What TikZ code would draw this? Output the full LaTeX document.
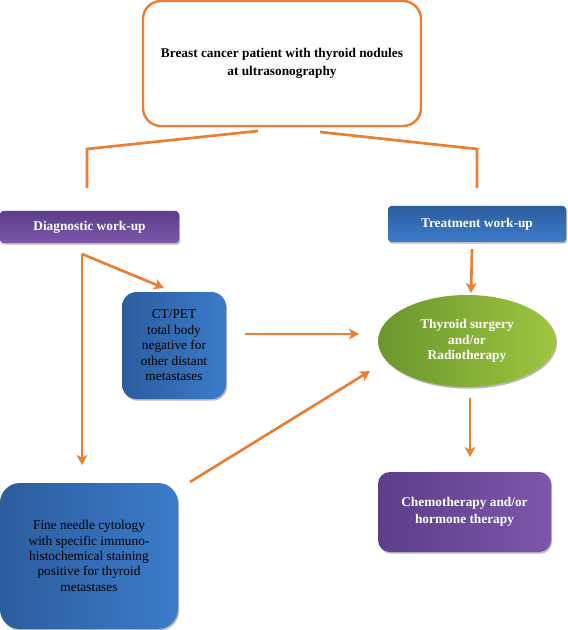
\documentclass[tikz,border=0pt]{standalone}
\usepackage{fontspec}
\setmainfont{Liberation Serif}
\usetikzlibrary{arrows.meta,shadows,shapes.geometric}
\definecolor{org}{RGB}{237,125,49}
\definecolor{purD}{RGB}{92,62,138}
\definecolor{purL}{RGB}{124,86,170}
\definecolor{bluD}{RGB}{44,92,158}
\definecolor{bluL}{RGB}{60,124,202}
\definecolor{grnD}{RGB}{106,150,44}
\definecolor{grnL}{RGB}{158,198,64}
\begin{document}
\begin{tikzpicture}[x=0.75pt,y=0.75pt,
  base/.style={inner sep=0pt, align=center, font=\fontsize{10}{11.6}\selectfont},
  sh/.style={drop shadow={shadow xshift=0.8pt,shadow yshift=-1.3pt,fill=black!50,opacity=0.55}},
  topbox/.style={base, draw=org, line width=1.8pt, fill=white, rounded corners=13.5pt,
    font=\fontsize{10}{13.5}\selectfont\bfseries, text=black},
  headD/.style={base, sh, rounded corners=2.5pt, top color=purD, bottom color=purL,
    text=white, font=\fontsize{10}{11.6}\selectfont\bfseries},
  headT/.style={base, sh, rounded corners=2.5pt, top color=bluD, bottom color=bluL,
    text=white, font=\fontsize{10}{11.6}\selectfont\bfseries},
  bluebox/.style={base, sh, left color=bluD, right color=bluL, text=black},
  greenell/.style={base, sh, ellipse, left color=grnD, right color=grnL, text=white,
    font=\fontsize{10}{11.6}\selectfont\bfseries},
  purbox/.style={base, sh, rounded corners=9pt, left color=purD, right color=purL, text=white,
    font=\fontsize{10}{12.75}\selectfont\bfseries},
  link/.style={draw=org, line width=2pt},
  arr/.style={link, -{Stealth[length=7.5pt,width=8pt,inset=2pt]}}]
\useasboundingbox (0,0) rectangle (567,-630);

% nodes
\node[topbox, minimum width=208.5pt, minimum height=93.75pt] (top) at (282,-63.5)
  {Breast cancer patient with thyroid nodules\\at ultrasonography};
\node[headD, minimum width=134.25pt, minimum height=24pt] (diag) at (89.5,-227)
  {Diagnostic work-up};
\node[headT, minimum width=133.5pt, minimum height=27pt] (treat) at (477,-224)
  {Treatment work-up};
\node[bluebox, rounded corners=11pt, minimum width=78pt, minimum height=80.25pt] (ct) at (174,-345.5)
  {CT/PET\\total body\\negative for\\other distant\\metastases};
\node[greenell, minimum width=133.5pt, minimum height=69pt] (surg) at (467,-341)
  {\raisebox{0pt}{Thyroid surgery}\\and/or\\Radiotherapy};
\node[purbox, minimum width=129.75pt, minimum height=60pt] (chemo) at (464.5,-512)
  {Chemotherapy and/or\\hormone therapy};
\node[bluebox, rounded corners=15pt, minimum width=133.5pt, minimum height=109.5pt,
  font=\fontsize{10}{11.5}\selectfont] (fnc) at (89,-556)
  {Fine needle cytology\\with specific immuno-\\histochemical staining\\positive for thyroid\\metastases};

% free ends of connectors
\coordinate (tl0) at (258,-131);
\coordinate (tl1) at (87,-149);
\coordinate (tl2) at (87,-188);
\coordinate (tr0) at (320,-132);
\coordinate (tr1) at (477,-149);
\coordinate (tr2) at (477,-188);
\coordinate (d0) at (82,-254);
\coordinate (ctIn) at (164,-288);
\coordinate (fncIn) at (82,-465);
\coordinate (ctOut) at (245,-334);
\coordinate (surgInA) at (359,-334);
\coordinate (fncOut) at (190,-482);
\coordinate (surgInB) at (370,-371);
\coordinate (treatOut) at (472,-249);
\coordinate (surgInC) at (471,-293);
\coordinate (surgOut) at (470,-398);
\coordinate (chemoIn) at (470,-457);

% connectors
\draw[link] (tl0) -- (tl1) -- (tl2);
\draw[link] (tr0) -- (tr1) -- (tr2);
\draw[arr] (d0) -- (ctIn);
\draw[arr] (d0) -- (fncIn);
\draw[arr] (ctOut) -- (surgInA);
\draw[arr] (fncOut) -- (surgInB);
\draw[arr] (treatOut) -- (surgInC);
\draw[arr] (surgOut) -- (chemoIn);
\end{tikzpicture}
\end{document}
